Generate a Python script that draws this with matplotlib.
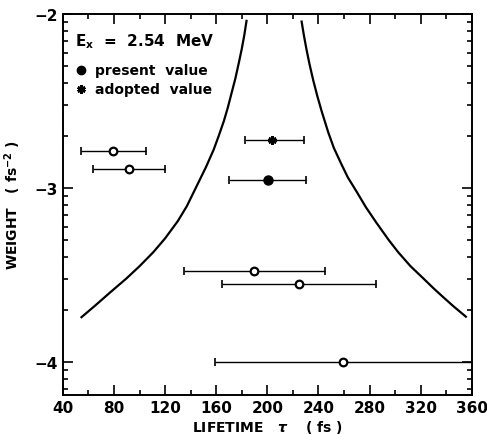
import numpy as np
import matplotlib
matplotlib.use('Agg')
import matplotlib.pyplot as plt
from matplotlib.ticker import MultipleLocator, LogLocator, FuncFormatter, NullFormatter

plt.rcParams['font.family'] = ['DejaVu Sans']
plt.rcParams['font.weight'] = 'bold'

# open circles: other measurements (tau, log10 weight, err low end, err high end)
open_tau = [79.5, 91.6, 189.5, 224.7, 259.3]
open_logw = [-2.79, -2.89, -3.48, -3.553, -4.0]
open_lo = [54.6, 63.7, 134.7, 164.7, 159.2]
open_hi = [104.9, 119.8, 244.7, 284.6, 372.0]

# present value (filled circle)
pres_tau = [200.6]
pres_logw = [-2.952]
pres_lo = [169.9]
pres_hi = [230.1]

# adopted value (asterisk)
adop_tau = [203.8]
adop_logw = [-2.724]
adop_lo = [182.4]
adop_hi = [228.6]

# boundary curves
left_tau = [54.6, 65.0, 76.8, 89.8, 100.0, 110.7, 120.0, 130.0, 137.0, 144.0,
            152.0, 158.0, 162.0, 166.0, 169.0, 172.0, 175.0, 178.0, 180.0, 182.0, 183.7]
left_logw = [-3.743, -3.678, -3.602, -3.52, -3.45, -3.37, -3.29, -3.19, -3.105, -3.00,
             -2.88, -2.78, -2.70, -2.615, -2.54, -2.455, -2.37, -2.27, -2.20, -2.12, -2.04]
right_tau = [226.8, 228.5, 230.5, 233.0, 236.0, 239.0, 242.5, 247.6, 252.0, 258.0,
             263.0, 269.7, 277.0, 285.3, 295.0, 302.4, 312.0, 322.0, 330.0, 337.6, 346.0, 355.3]
right_logw = [-2.044, -2.12, -2.20, -2.29, -2.385, -2.47, -2.56, -2.68, -2.77, -2.865,
              -2.94, -3.02, -3.11, -3.20, -3.30, -3.37, -3.45, -3.52, -3.577, -3.628, -3.683, -3.74]


def w(v):
    return 10.0 ** np.array(v)


def xerr(t, lo, hi):
    t = np.array(t)
    return [t - np.array(lo), np.array(hi) - t]


fig = plt.figure(figsize=(4.87, 4.35), dpi=100)
ax = fig.add_axes([0.129, 0.0897, 0.840, 0.876])
ax.set_yscale('log')

ax.plot(left_tau, w(left_logw), color='black', lw=1.6)
ax.plot(right_tau, w(right_logw), color='black', lw=1.6)

ax.errorbar(open_tau, w(open_logw), xerr=xerr(open_tau, open_lo, open_hi),
            fmt='none', ecolor='black', elinewidth=1.0, capsize=3, capthick=1.2, zorder=2)
ax.plot(open_tau, w(open_logw), 'o', mfc='white', mec='black', mew=1.6, ms=5.5, zorder=3)
ax.errorbar(pres_tau, w(pres_logw), xerr=xerr(pres_tau, pres_lo, pres_hi),
            fmt='none', ecolor='black', elinewidth=1.0, capsize=3, capthick=1.2, zorder=2)
ax.plot(pres_tau, w(pres_logw), 'o', color='black', ms=6.5, zorder=3)
ax.errorbar(adop_tau, w(adop_logw), xerr=xerr(adop_tau, adop_lo, adop_hi),
            fmt='none', ecolor='black', elinewidth=1.0, capsize=3, capthick=1.2, zorder=2)
ax.plot(adop_tau, w(adop_logw), linestyle='none', marker=(6, 2, 0), color='black',
        mew=2.0, ms=6, zorder=3)

ax.set_xlim(40, 360)
ax.set_ylim(10 ** -4.19, 10 ** -2)

ax.xaxis.set_major_locator(MultipleLocator(40))
ax.xaxis.set_minor_locator(MultipleLocator(20))
ax.yaxis.set_major_locator(LogLocator(base=10, numticks=10))
ax.yaxis.set_minor_locator(LogLocator(base=10, subs=np.arange(2, 10), numticks=20))
ax.yaxis.set_major_formatter(FuncFormatter(lambda v, p: '\u2212%d' % round(-np.log10(v))))
ax.yaxis.set_minor_formatter(NullFormatter())

ax.tick_params(which='both', direction='in', top=True, right=True, width=1.2,
               labelsize=11)
ax.tick_params(which='major', length=7)
ax.tick_params(which='minor', length=3.5)
for s in ax.spines.values():
    s.set_linewidth(1.4)

ax.set_xlabel(r'LIFETIME   $\tau$    ( fs )', fontsize=10, fontweight='bold', labelpad=2)
ax.set_ylabel(r'WEIGHT   ( fs$^{-2}$ )', fontsize=10, fontweight='bold', labelpad=8)

# annotations
ax.text(49.5, 10 ** -2.18, r'E$_\mathbf{x}$  =  2.54  MeV', fontsize=11, fontweight='bold')
ax.plot([54.6], [10 ** -2.32], 'o', color='black', ms=6)
ax.text(65.0, 10 ** -2.32, 'present  value', fontsize=10, fontweight='bold', va='center')
ax.plot([54.6], [10 ** -2.43], marker=(6, 2, 0), color='black', mew=2.0, ms=6)
ax.text(65.0, 10 ** -2.43, 'adopted  value', fontsize=10, fontweight='bold', va='center')

plt.savefig('out.png', dpi=100)
